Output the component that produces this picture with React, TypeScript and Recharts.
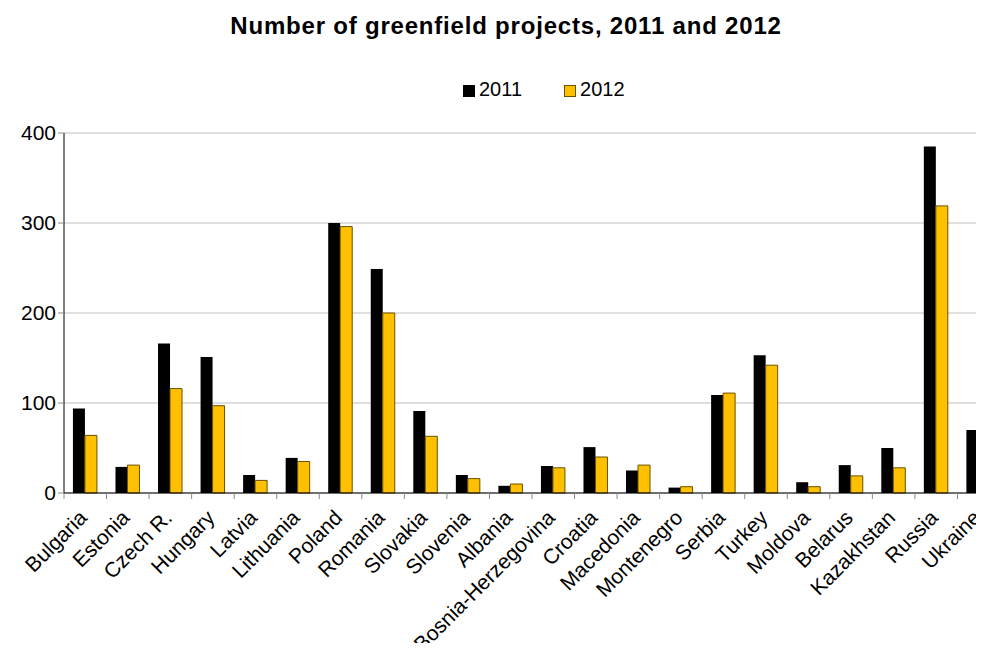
import { BarChart, Bar, XAxis, YAxis, CartesianGrid } from 'recharts'

const countries = [
  'Bulgaria', 'Estonia', 'Czech R.', 'Hungary', 'Latvia', 'Lithuania', 'Poland',
  'Romania', 'Slovakia', 'Slovenia', 'Albania', 'Bosnia-Herzegovina', 'Croatia',
  'Macedonia', 'Montenegro', 'Serbia', 'Turkey', 'Moldova', 'Belarus',
  'Kazakhstan', 'Russia', 'Ukraine',
]
const projects2011 = [94, 29, 166, 151, 20, 39, 300, 249, 91, 20, 8, 30, 51, 25, 6, 109, 153, 12, 31, 50, 385, 70]
const projects2012 = [64, 31, 116, 97, 14, 35, 296, 200, 63, 16, 10, 28, 40, 31, 7, 111, 142, 7, 19, 28, 319, 60]
const yTicks = [0, 100, 200, 300, 400]
const seriesNames = ['2011', '2012']

const data = countries.map((name, i) => ({
  name,
  y2011: projects2011[i],
  y2012: projects2012[i],
}))

const W = 1000
const H = 651
const AXIS_W = 64
const BAND = (W - AXIS_W) / countries.length
const FONT = 'Arial, "Liberation Sans", sans-serif'
const COLORS = [
  { fill: '#000', stroke: '#000' },
  { fill: '#FFC000', stroke: '#6b5200' },
]

function CountryTick(props: any) {
  const { x, y, payload } = props
  return (
    <g>
      <line x1={x - BAND / 2} y1={y - 8} x2={x - BAND / 2} y2={y - 2} stroke="#888" />
      <text
        x={0}
        y={0}
        transform={`translate(${x + 3},${y + 18}) rotate(-45)`}
        textAnchor="end"
        fontSize={21}
        fontFamily={FONT}
        fill="#000"
      >
        {payload.value}
      </text>
    </g>
  )
}

export default function App() {
  return (
    <div style={{ position: 'relative', margin: -8, width: 984, height: 651, overflow: 'hidden', background: '#fff' }}>
      <div
        style={{
          position: 'absolute',
          top: 12,
          left: 0,
          width: 1012,
          textAlign: 'center',
          fontFamily: FONT,
          fontWeight: 'bold',
          fontSize: 24,
          letterSpacing: 0.8,
          color: '#000',
        }}
      >
        Number of greenfield projects, 2011 and 2012
      </div>
      <div
        style={{
          position: 'absolute',
          top: 78,
          left: 463,
          display: 'flex',
          fontFamily: FONT,
          fontSize: 20,
          color: '#000',
        }}
      >
        {seriesNames.map((label, i) => (
          <div key={label} style={{ display: 'flex', alignItems: 'center', marginRight: 42 }}>
            <span
              style={{
                width: 10,
                height: 10,
                background: COLORS[i].fill,
                border: `1px solid ${COLORS[i].stroke}`,
                marginRight: 4,
                marginTop: 2,
              }}
            />
            <span>{label}</span>
          </div>
        ))}
      </div>
      <BarChart
        width={W}
        height={H}
        data={data}
        margin={{ top: 133, right: 0, bottom: 0, left: 0 }}
        barCategoryGap="21%"
        barGap={0}
      >
        <CartesianGrid vertical={false} stroke="#c0c0c0" />
        <XAxis
          dataKey="name"
          interval={0}
          height={158}
          axisLine={{ stroke: '#000' }}
          tickLine={false}
          tick={<CountryTick />}
        />
        <YAxis
          width={AXIS_W}
          domain={[0, 400]}
          ticks={yTicks}
          axisLine={{ stroke: '#000' }}
          tickLine={{ stroke: '#888' }}
          tickSize={6}
          tick={{ fill: '#000', fontSize: 21, fontFamily: FONT }}
        />
        <Bar dataKey="y2011" name={seriesNames[0]} fill={COLORS[0].fill} isAnimationActive={false} />
        <Bar
          dataKey="y2012"
          name={seriesNames[1]}
          fill={COLORS[1].fill}
          stroke={COLORS[1].stroke}
          strokeWidth={1}
          isAnimationActive={false}
        />
      </BarChart>
    </div>
  )
}
